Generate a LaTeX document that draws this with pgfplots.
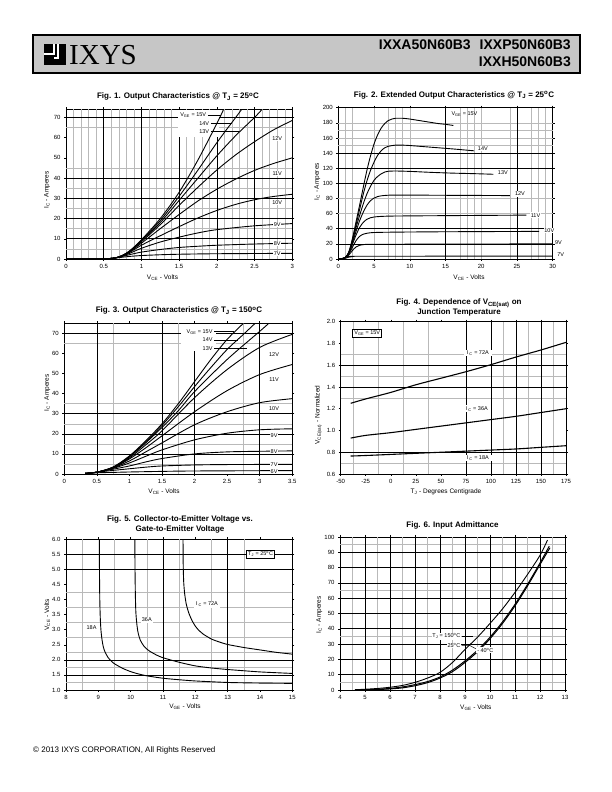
\documentclass[border=0pt]{standalone}
\usepackage{pgfplots}
\pgfplotsset{compat=1.18}
\usepackage{fontspec}
\setmainfont{Liberation Sans}
\newfontfamily\seriffont{Liberation Serif}

\tikzset{
  gg/.style={gray!55,line width=0.5pt},
  bg/.style={black,line width=0.6pt},
  lab/.style={font=\fontsize{5.5}{6}\selectfont, inner sep=0.8pt},
  wlab/.style={lab, fill=white},
  ttl/.style={font=\bfseries\fontsize{8}{10}\selectfont, align=center},
  alab/.style={font=\fontsize{6.5}{7}\selectfont},
}
\newcommand\vgrid[4]{\pgfplotsinvokeforeach{#4}{\draw[#1] (axis cs:##1,#2)--(axis cs:##1,#3);}}
\newcommand\hgrid[4]{\pgfplotsinvokeforeach{#4}{\draw[#1] (axis cs:#2,##1)--(axis cs:#3,##1);}}

\pgfplotsset{
  ds/.style={
    scale only axis, anchor=south west, clip mode=individual,
    axis line style={line width=0.9pt},
    tick align=outside, major tick length=2pt,
    tick style={line width=0.5pt,black},
    ticklabel style={font=\fontsize{6}{7}\selectfont},
    /pgf/number format/assume math mode=true,
    every axis plot/.append style={line width=0.9pt, black, no markers},
  }
}

\begin{document}
\begin{tikzpicture}
\fill[white] (0pt,0pt) rectangle (612pt,792pt);
% ---------- header ----------
\draw[line width=1.2pt, fill=gray!45] (33pt,719pt) rectangle (580pt,757pt);
\fill[black] (44pt,727pt) rectangle (66pt,748pt);
\draw[white, line width=1.5pt] (44pt,738pt) -- (54pt,738pt) -- (54pt,748pt);
\draw[white, line width=1.5pt] (54pt,734pt) -- (58pt,734pt) -- (58pt,748pt);
\node[anchor=base west, font=\fontsize{29}{30}\seriffont, inner sep=0pt] at (69pt,727pt) {IXYS};
\node[anchor=base east, font=\bfseries\fontsize{14}{15}\selectfont, inner sep=0pt] at (571pt,742pt) {IXXA50N60B3\hspace{9pt}IXXP50N60B3};
\node[anchor=base east, font=\bfseries\fontsize{14}{15}\selectfont, inner sep=0pt] at (571pt,725pt) {IXXH50N60B3};
% ---------- footer ----------
\node[anchor=base west, font=\fontsize{8}{9}\selectfont, inner sep=0pt] at (33pt,39pt) {\textcopyright{} 2013 IXYS CORPORATION, All Rights Reserved};

% ---------- titles & labels ----------
\node[ttl] at (178pt,695.3pt) {Fig. 1. Output Characteristics @ T\textsubscript{J} = 25\textsuperscript{o}C};
\node[ttl] at (454pt,697pt) {Fig. 2. Extended Output Characteristics @ T\textsubscript{J} = 25\textsuperscript{o}C};
\node[ttl] at (179pt,481.3pt) {Fig. 3. Output Characteristics @ T\textsubscript{J} = 150\textsuperscript{o}C};
\node[ttl] at (459pt,484.3pt) {Fig. 4. Dependence of V\textsubscript{CE(sat)} on\\Junction Temperature};
\node[ttl] at (180pt,267.8pt) {Fig. 5. Collector-to-Emitter Voltage vs.\\Gate-to-Emitter Voltage};
\node[ttl] at (452.5pt,267pt) {Fig. 6. Input Admittance};

\node[alab, rotate=90] at (47pt,602pt) {I\textsubscript{C} - Amperes};
\node[alab] at (162.5pt,514.3pt) {V\textsubscript{CE} - Volts};
\node[alab, rotate=90] at (317.3pt,610.3pt) {I\textsubscript{C} - Amperes};
\node[alab] at (469pt,514.3pt) {V\textsubscript{CE} - Volts};
\node[alab, rotate=90] at (47.3pt,399pt) {I\textsubscript{C} - Amperes};
\node[alab] at (164pt,300pt) {V\textsubscript{CE} - Volts};
\node[alab, rotate=90] at (318.3pt,377pt) {V\textsubscript{CE(sat)} - Normalized};
\node[alab] at (446pt,300pt) {T\textsubscript{J} - Degrees Centigrade};
\node[alab, rotate=90] at (47.3pt,177pt) {V\textsubscript{CE} - Volts};
\node[alab] at (185pt,85.3pt) {V\textsubscript{GE} - Volts};
\node[alab, rotate=90] at (319.3pt,177pt) {I\textsubscript{C} - Amperes};
\node[alab] at (475.8pt,84.3pt) {V\textsubscript{GE} - Volts};

% ================= Fig 1 =================
\begin{axis}[ds, at={(66pt,533pt)}, width=226.3pt, height=149.7pt,
  xmin=0, xmax=3, ymin=0, ymax=74, xtick={0,0.5,1,1.5,2,2.5,3}, ytick={0,10,...,70}]
\vgrid{gg}{0}{74}{0.1,0.2,0.3,0.4,0.6,0.7,0.8,0.9,1.1,1.2,1.3,1.4,1.6,1.7,1.8,1.9,2.1,2.2,2.3,2.4,2.6,2.7,2.8,2.9}
\hgrid{gg}{0}{3}{5,15,25,35,45,65}
\vgrid{bg}{0}{74}{0.5,1,1.5,2,2.5}
\hgrid{bg}{0}{3}{10,20,30,40,70}
\fill[white] (axis cs:1.48,60.5) rectangle (axis cs:2.03,73.6);
\node[lab, anchor=east] at (axis cs:1.87,71.3) {V\textsubscript{GE} = 15V};
\draw[line width=0.5pt] (axis cs:1.88,71.3) -- (axis cs:2.05,71.3);
\node[lab, anchor=east] at (axis cs:1.91,67) {14V};
\draw[line width=0.5pt] (axis cs:1.92,67) -- (axis cs:2.2,67);
\node[lab, anchor=east] at (axis cs:1.91,63) {13V};
\draw[line width=0.5pt] (axis cs:1.92,63) -- (axis cs:2.3,63);
\addplot[smooth] coordinates {(0,0)(0.5,0.15)(0.65,0.5)(0.75,1.8)(0.85,4.2)(1.0,9.5)(1.25,20)(1.5,33)(1.75,49)(2.0,67)(2.09,74)};
\addplot[smooth] coordinates {(0,0)(0.5,0.15)(0.65,0.5)(0.75,1.8)(0.85,4.1)(1.0,9.2)(1.25,19)(1.5,31)(1.75,44)(2.0,57.5)(2.25,70)(2.33,74)};
\addplot[smooth] coordinates {(0,0)(0.5,0.15)(0.65,0.5)(0.75,1.8)(0.85,4)(1.0,9)(1.25,18)(1.5,29)(1.75,40)(2.0,51)(2.25,61)(2.5,70)(2.6,74)};
\addplot[smooth] coordinates {(0,0)(0.5,0.15)(0.65,0.5)(0.75,1.7)(0.85,3.9)(1.0,8.5)(1.25,17)(1.5,26.5)(1.75,35.5)(2.0,44)(2.25,51.5)(2.5,58)(2.75,63.8)(3,68.5)};
\addplot[smooth] coordinates {(0,0)(0.5,0.15)(0.65,0.5)(0.75,1.7)(0.85,3.7)(1.0,7.8)(1.25,15)(1.5,22)(1.75,28.7)(2.0,34.5)(2.25,39.5)(2.5,43.8)(2.75,47.2)(3,50)};
\addplot[smooth] coordinates {(0,0)(0.5,0.15)(0.65,0.5)(0.75,1.6)(0.85,3.4)(1.0,6.8)(1.25,11.5)(1.5,16)(1.75,20.3)(2.0,24)(2.25,27)(2.5,29.3)(2.75,30.9)(3,32)};
\addplot[smooth] coordinates {(0,0)(0.5,0.15)(0.65,0.5)(0.75,1.5)(0.85,2.9)(1.0,5.3)(1.25,8.4)(1.5,10.8)(1.75,12.9)(2.0,14.5)(2.5,16.4)(3,17.5)};
\addplot[smooth] coordinates {(0,0)(0.5,0.15)(0.65,0.5)(0.75,1.3)(0.85,2.2)(1.0,3.4)(1.25,4.7)(1.5,5.7)(1.75,6.3)(2.0,6.8)(2.5,7.4)(3,7.8)};
\addplot[smooth] coordinates {(0,0)(0.5,0.15)(0.65,0.45)(0.75,0.9)(0.85,1.3)(1.0,1.7)(1.25,2.1)(1.5,2.35)(2.0,2.6)(3,2.8)};
\node[wlab] at (axis cs:2.8,59.6) {12V};
\node[wlab] at (axis cs:2.8,42.3) {11V};
\node[wlab] at (axis cs:2.8,28) {10V};
\node[wlab] at (axis cs:2.8,17.1) {9V};
\node[wlab] at (axis cs:2.8,7.7) {8V};
\node[wlab] at (axis cs:2.8,2.8) {7V};
\end{axis}

% ================= Fig 2 =================
\begin{axis}[ds, at={(338.3pt,533pt)}, width=214.4pt, height=151.3pt,
  xmin=0, xmax=30, ymin=0, ymax=200, xtick={0,5,...,30}, ytick={0,20,...,200}]
\vgrid{gg}{0}{200}{1,2,5,7,8,9,10,17,18,19,20,24,27,28,29}
\hgrid{gg}{0}{30}{60,80,150,160,170,180}
\vgrid{bg}{0}{200}{15,25}
\hgrid{bg}{0}{30}{20,40,100,120,140}
\addplot[smooth] coordinates {(0,0)(0.5,0.3)(1,2)(1.5,10)(2,28)(2.5,50)(3,72)(3.5,95)(4,117)(4.5,136)(5,152)(5.5,164)(6,173)(6.5,179)(7,183)(7.5,185)(8,186)(9,186)(10,185)(11,183.5)(12,182)(13,180.5)(14,179)(15,178)(16.1,176.5)};
\addplot[smooth] coordinates {(0,0)(0.5,0.3)(1,2)(1.5,9.5)(2,26)(2.5,46)(3,66)(3.5,86)(4,103)(4.5,117)(5,128)(5.5,137)(6,143)(6.5,147)(7,149)(8,150.5)(9,150.5)(10,150)(12,148.5)(14,147)(16,145.5)(19,143)};
\addplot[smooth] coordinates {(0,0)(0.5,0.3)(1,2)(1.5,9)(2,24)(2.5,42)(3,58)(3.5,73)(4,86)(4.5,96)(5,104)(5.5,109)(6,112.5)(6.5,115)(7,116)(8,116.3)(10,115.8)(13,114.5)(16,113.5)(19,112.8)(21.7,112)};
\addplot[smooth] coordinates {(0,0)(0.5,0.3)(1,2)(1.5,8.5)(2,22)(2.5,37)(3,51)(3.5,62)(4,71)(4.5,77)(5,80.5)(5.5,82.5)(6,83.5)(7,84.3)(9,84.5)(15,84.2)(20,84)(24,83.8)};
\addplot[smooth] coordinates {(0,0)(0.5,0.3)(1,2)(1.5,8)(2,20)(2.5,32)(3,42)(3.5,48.5)(4,52.5)(4.5,54.5)(5,55.5)(6,56.3)(8,56.8)(15,57.3)(26.3,58)};
\addplot[smooth] coordinates {(0,0)(0.5,0.3)(1,2)(1.5,7)(2,16)(2.5,24.5)(3,30)(3.5,32.8)(4,34)(5,35)(8,35.5)(15,36)(28.1,36.5)};
\addplot[smooth] coordinates {(0,0)(0.5,0.3)(1,1.8)(1.5,5.5)(2,11.5)(2.5,16)(3,18.2)(3.5,19)(5,19.4)(15,19.7)(30,20)};
\addplot[smooth] coordinates {(0,0)(0.5,0.2)(1,1)(1.5,2.5)(2,3.2)(3,3.6)(30,3.8)};
\node[lab, anchor=west] at (axis cs:15.7,191) {V\textsubscript{GE} = 15V};
\node[wlab, anchor=west] at (axis cs:19.4,146) {14V};
\node[wlab, anchor=west] at (axis cs:22.2,114.5) {13V};
\node[wlab, anchor=west] at (axis cs:24.6,86) {12V};
\node[wlab, anchor=west] at (axis cs:26.8,58) {11V};
\node[wlab, anchor=west] at (axis cs:28.7,37.4) {10V};
\node[lab, anchor=west] at (axis cs:30.2,22) {9V};
\node[lab, anchor=west] at (axis cs:30.5,5.3) {7V};
\end{axis}

% ================= Fig 3 =================
\begin{axis}[ds, at={(64.3pt,318pt)}, width=228pt, height=150.7pt,
  xmin=0, xmax=3.5, ymin=0, ymax=75, xtick={0,0.5,...,3.5}, ytick={0,10,...,70}]
\vgrid{gg}{0}{75}{0.75,1.75,2.75}
\hgrid{gg}{0}{3.5}{5,15,25,35,65}
\vgrid{bg}{0}{75}{0.5,1.5,2,3}
\hgrid{bg}{0}{3.5}{10,20,30,70}
\fill[white] (axis cs:1.79,61) rectangle (axis cs:2.33,74.6);
\node[lab, anchor=east] at (axis cs:2.29,70.8) {V\textsubscript{GE} = 15V};
\draw[line width=0.5pt] (axis cs:2.3,70.8) -- (axis cs:2.6,70.8);
\node[lab, anchor=east] at (axis cs:2.29,66.7) {14V};
\draw[line width=0.5pt] (axis cs:2.3,66.7) -- (axis cs:2.66,66.7);
\node[lab, anchor=east] at (axis cs:2.29,62.5) {13V};
\draw[line width=0.5pt] (axis cs:2.3,62.5) -- (axis cs:2.8,62.5);
\addplot[smooth] coordinates {(0.32,0.3)(0.5,0.9)(0.75,3.5)(1.0,9)(1.25,16.5)(1.5,25)(1.75,35)(2.0,46)(2.25,57)(2.5,67)(2.75,75)};
\addplot[smooth] coordinates {(0.32,0.3)(0.5,0.9)(0.75,3.4)(1.0,8.8)(1.25,16)(1.5,24.2)(1.75,33.5)(2.0,43.5)(2.25,53)(2.5,62)(2.75,69.5)(2.93,75)};
\addplot[smooth] coordinates {(0.32,0.3)(0.5,0.9)(0.75,3.3)(1.0,8.5)(1.25,15.5)(1.5,23.2)(1.75,31.5)(2.0,41)(2.5,57)(3.0,71)(3.14,75)};
\addplot[smooth] coordinates {(0.32,0.3)(0.5,0.9)(0.75,3.2)(1.0,8)(1.25,14.5)(1.5,21.5)(2.0,38)(2.5,52)(3.0,63)(3.5,69.5)};
\addplot[smooth] coordinates {(0.32,0.3)(0.5,0.9)(0.75,3.1)(1.0,7.5)(1.25,13)(1.5,19)(2.0,31)(2.5,41.5)(3.0,49.5)(3.5,54.5)};
\addplot[smooth] coordinates {(0.32,0.3)(0.5,0.9)(0.75,3.0)(1.0,6.5)(1.25,11)(1.5,15.5)(2.0,24.5)(2.5,31)(3.0,35.5)(3.5,37.5)};
\addplot[smooth] coordinates {(0.32,0.3)(0.5,0.9)(0.75,2.8)(1.0,5.5)(1.25,8.8)(1.5,12)(2.0,17)(2.5,20.3)(3.0,22)(3.5,22.5)};
\addplot[smooth] coordinates {(0.32,0.3)(0.5,0.9)(0.75,2.4)(1.0,4)(1.25,6)(1.5,7.7)(2.0,10)(2.5,11)(3.0,11.3)(3.5,11.5)};
\addplot[smooth] coordinates {(0.32,0.3)(0.5,0.9)(0.75,1.8)(1.0,2.6)(1.25,3.4)(1.5,4)(2.0,4.5)(2.5,4.7)(3.5,4.8)};
\addplot[smooth] coordinates {(0.32,0.3)(0.5,0.6)(0.75,0.8)(1.0,1)(1.5,1.3)(2.0,1.5)(3.5,1.7)};
\node[wlab] at (axis cs:3.22,59.2) {12V};
\node[wlab] at (axis cs:3.22,46.8) {11V};
\node[wlab] at (axis cs:3.22,32.7) {10V};
\node[wlab] at (axis cs:3.22,19) {9V};
\node[wlab] at (axis cs:3.22,11.2) {8V};
\node[wlab] at (axis cs:3.22,4.8) {7V};
\node[wlab] at (axis cs:3.22,1.4) {6V};
\end{axis}

% ================= Fig 4 =================
\begin{axis}[ds, at={(340.7pt,318pt)}, width=225.3pt, height=152.3pt,
  xmin=-50, xmax=175, ymin=0.6, ymax=2.0, xtick={-50,-25,...,175}, ytick={0.6,0.8,...,2.0},
  yticklabel style={/pgf/number format/.cd, fixed, fixed zerofill, precision=1}]
\vgrid{gg}{0.6}{2.0}{-37.5,-12.5,12.5,37.5,112.5,137.5,162.5}
\hgrid{gg}{-50}{175}{0.7,1.3,1.5,1.7}
\vgrid{bg}{0.6}{2.0}{75,100,125,150}
\hgrid{bg}{-50}{175}{0.8,1.4,1.6}
\addplot[smooth, line width=1.1pt] coordinates {(-40,1.25)(-25,1.29)(0,1.35)(25,1.42)(50,1.48)(75,1.54)(100,1.605)(125,1.675)(150,1.74)(175,1.81)};
\addplot[smooth, line width=1.1pt] coordinates {(-40,0.93)(-25,0.955)(0,0.98)(25,1.01)(50,1.04)(75,1.07)(100,1.1)(125,1.13)(150,1.165)(175,1.2)};
\addplot[smooth, line width=1.1pt] coordinates {(-40,0.765)(-25,0.77)(0,0.78)(25,0.79)(50,0.80)(75,0.81)(100,0.82)(125,0.83)(150,0.845)(175,0.86)};
\node[lab, draw, fill=white, line width=0.7pt, inner sep=1.5pt] at (axis cs:-23.5,1.895) {V\textsubscript{GE} = 15V};
\node[wlab, inner xsep=3pt] at (axis cs:87,1.71) {I\,\textsubscript{C} = 72A};
\node[wlab, inner xsep=3pt] at (axis cs:86,1.2) {I\,\textsubscript{C} = 36A};
\node[wlab, inner xsep=3pt] at (axis cs:87,0.745) {I\,\textsubscript{C} = 18A};
\end{axis}

% ================= Fig 5 =================
\begin{axis}[ds, at={(66pt,102pt)}, width=226.3pt, height=150.7pt,
  xmin=8, xmax=15, ymin=1, ymax=6, xtick={8,...,15}, ytick={1,1.5,...,6},
  yticklabel style={/pgf/number format/.cd, fixed, fixed zerofill, precision=1}]
\vgrid{gg}{1}{6}{8.5,9.5,10.5,11.5,12.5,13.5}
\hgrid{gg}{8}{15}{1.25,1.75,2.25,2.75,3.25,3.75,4.25}
\vgrid{bg}{1}{6}{11,13}
\hgrid{bg}{8}{15}{1.5,2,5,5.5}
\addplot[smooth, tension=0.4] coordinates {(9.03,6.0)(9.035,5.0)(9.045,4.0)(9.06,3.4)(9.08,3.0)(9.11,2.7)(9.15,2.45)(9.2,2.28)(9.3,2.08)(9.4,1.96)(9.5,1.87)(9.75,1.72)(10,1.61)(10.25,1.53)(10.5,1.47)(11,1.39)(11.5,1.34)(12,1.3)(13,1.25)(14,1.23)(15,1.22)};
\addplot[smooth, tension=0.4] coordinates {(10.13,6)(10.135,5)(10.145,4.2)(10.16,3.6)(10.19,3.2)(10.23,2.9)(10.3,2.65)(10.4,2.47)(10.5,2.36)(10.6,2.28)(10.8,2.16)(11,2.07)(11.5,1.92)(12,1.8)(12.5,1.73)(13,1.68)(14,1.6)(15,1.55)};
\addplot[smooth, tension=0.4] coordinates {(11.62,6)(11.625,5.2)(11.64,4.6)(11.67,4.2)(11.72,3.85)(11.8,3.55)(11.9,3.3)(12.0,3.12)(12.1,2.99)(12.25,2.85)(12.5,2.69)(12.75,2.59)(13,2.51)(13.5,2.41)(14,2.33)(14.5,2.25)(15,2.19)};
\node[wlab] at (axis cs:8.79,3.08) {18A};
\node[wlab] at (axis cs:10.5,3.32) {36A};
\node[wlab, inner xsep=2pt] at (axis cs:12.36,3.84) {I\,\textsubscript{C} = 72A};
\node[lab, draw, fill=white, line width=0.7pt, inner sep=1.5pt] at (axis cs:14.02,5.5) {T\textsubscript{J} = 25\textsuperscript{o}C};
\end{axis}

% ================= Fig 6 =================
\begin{axis}[ds, at={(340pt,102pt)}, width=225pt, height=153pt,
  xmin=4, xmax=13, ymin=0, ymax=100, xtick={4,...,13}, ytick={0,10,...,100}]
\vgrid{gg}{0}{100}{4.5,5.5,6.5,7.5,8.5,9.5,10.5,11.5,12.5}
\hgrid{gg}{4}{13}{5,35,65,95}
\vgrid{bg}{0}{100}{5,6,7,8,9,10,11,12}
\hgrid{bg}{4}{13}{10,20,30,40,50,60,70,80,90}
\addplot[smooth] coordinates {(4.6,0.2)(5,0.5)(5.5,1)(6,1.8)(6.5,3)(7,5)(7.5,7.8)(8,11.5)(8.5,18)(9,26.5)(9.5,34.5)(10,43.5)(10.5,53)(11,63.8)(11.5,75.5)(12,88)(12.3,98)};
\addplot[smooth, line width=1.0pt] coordinates {(4.6,0.1)(5,0.2)(5.5,0.5)(6,1)(6.5,2)(7,3.5)(7.5,5.5)(8,8.5)(8.5,13)(9,19)(9.5,26)(10,34.5)(10.5,44.5)(11,56)(11.5,69)(12,83)(12.37,94)};
\addplot[smooth, line width=1.0pt] coordinates {(4.6,0.05)(5,0.1)(5.5,0.3)(6,0.7)(6.5,1.4)(7,2.8)(7.5,4.8)(8,7.8)(8.5,12)(9,18)(9.5,25)(10,33.5)(10.5,43.5)(11,55)(11.5,68)(12,82)(12.4,93)};
\node[wlab, anchor=east] at (axis cs:8.85,35) {T\textsubscript{J} = 150\textsuperscript{o}C};
\draw[line width=0.5pt] (axis cs:8.86,35) -- (axis cs:9.3,35);
\node[wlab, anchor=east] at (axis cs:8.85,29) {25\textsuperscript{o}C};
\draw[line width=0.5pt] (axis cs:8.86,29) -- (axis cs:9.2,29) -- (axis cs:9.6,25.5);
\node[wlab, anchor=west] at (axis cs:9.45,26) {- 40\textsuperscript{o}C};
\end{axis}
\end{tikzpicture}
\end{document}
